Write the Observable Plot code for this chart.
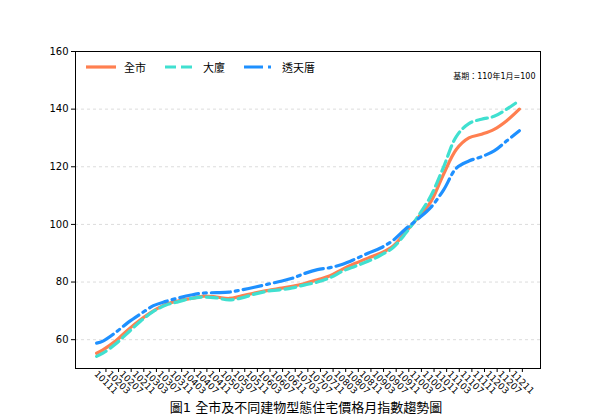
<!DOCTYPE html>
<html>
<head>
<meta charset="utf-8">
<script src="https://cdn.jsdelivr.net/npm/d3@7"></script>
<script src="https://cdn.jsdelivr.net/npm/@observablehq/plot@0.6"></script>
<style>
  html, body { margin: 0; padding: 0; background: white; }
  #wrap { position: relative; width: 600px; height: 420px; font-family: "DejaVu Sans", "Noto Sans CJK TC", sans-serif; }
  #legend { position: absolute; left: 86px; top: 59px; display: flex; align-items: center; font-size: 11px; }
  #legend .item { display: flex; align-items: center; margin-right: 9px; }
  #legend svg { margin-right: 8px; }
  #title { position: absolute; left: 0; top: 398px; width: 612px; text-align: center; font-size: 13px; line-height: 20px; }
</style>
</head>
<body>
<div id="wrap">
  <div id="chart"></div>
  <div id="legend"></div>
  <div id="title">圖1 全市及不同建物型態住宅價格月指數趨勢圖</div>
</div>
<script>
// Periods (民國年+月), data every 4 months plus a start point
const periods = ["10109","10111","10203","10207","10211","10303","10307","10311","10403","10407","10411",
  "10503","10507","10511","10603","10607","10611","10703","10707","10711","10803","10807","10811",
  "10903","10907","10911","11003","11007","11011","11103","11107","11111","11203","11207","11211"];
const seriesNames = ["全市", "大廈", "透天厝"];
const cityValues = [55.3,56.5,59.5,63.5,67.0,70.0,72.3,73.5,74.3,75.1,74.8,
  74.3,75.2,76.2,77.0,77.8,78.5,79.5,80.8,82.2,84.5,86.5,88.3,
  90.0,92.5,97.5,102.5,108.0,117.5,126.0,130.0,131.3,133.0,136.0,140.0];
const buildingValues = [54.2,55.3,58.5,62.5,66.5,69.8,72.0,73.2,74.3,74.8,74.5,
  73.8,74.5,75.8,76.8,77.3,78.0,79.0,80.0,81.5,83.8,85.5,87.2,
  89.3,92.0,97.0,103.0,110.0,120.0,130.5,135.0,136.5,137.5,140.0,143.0];
const houseValues = [58.8,59.5,62.5,66.0,69.0,71.8,73.3,74.5,75.5,76.2,76.3,
  76.5,77.3,78.2,79.2,80.2,81.3,83.0,84.3,85.0,86.2,88.0,90.0,
  91.8,94.5,98.5,102.0,106.0,112.0,119.5,122.0,123.5,125.5,129.0,132.5];
const tickLabels = periods.slice(1);
const yTicks = [60, 80, 100, 120, 140, 160];
const colors = ["#FF7F50", "#40E0D0", "#1E90FF"];
const dashes = [null, "11,5", "19,5,3,5"];
const note = "基期：110年1月=100";

const toMonth = p => (+p.slice(0, 3) - 101) * 12 + (+p.slice(3) - 11);
const allValues = [cityValues, buildingValues, houseValues];
const rows = [];
seriesNames.forEach((name, s) => periods.forEach((p, i) => rows.push({ m: toMonth(p), v: allValues[s][i], name })));
const labelByMonth = new Map(tickLabels.map(p => [toMonth(p), p]));

const font = '"DejaVu Sans", "Noto Sans CJK TC", sans-serif';
const chart = Plot.plot({
  width: 600,
  height: 396,
  marginLeft: 75,
  marginRight: 60,
  marginTop: 51,
  marginBottom: 28,
  style: { fontFamily: font, fontSize: "10px", color: "black", background: "white", overflow: "visible" },
  x: { type: "linear", domain: [-8.7, 138.7] },
  y: { domain: [50, 160] },
  marks: [
    Plot.gridY(yTicks, { stroke: "#dcdcdc", strokeOpacity: 1, strokeDasharray: "3,3" }),
    Plot.axisY({ ticks: yTicks, tickSize: 4, tickPadding: 3, label: null, fontSize: 10 }),
    Plot.axisX({ ticks: tickLabels.map(toMonth), tickFormat: m => labelByMonth.get(m), tickSize: 4,
      tickRotate: 45, textAnchor: "middle", lineAnchor: "middle", tickPadding: 10, dx: 3, label: null, fontSize: 9 }),
    ...seriesNames.map((name, s) => Plot.line(rows.filter(d => d.name === name), {
      x: "m", y: "v", stroke: colors[s], strokeWidth: 3.2, curve: "catmull-rom",
      strokeDasharray: dashes[s] ?? undefined
    })),
    Plot.frame({ stroke: "black", strokeWidth: 1 }),
    Plot.text([note], { frameAnchor: "top-right", dx: -5, dy: 22, fontSize: 8, textAnchor: "end" })
  ]
});
document.getElementById("chart").appendChild(chart);

// legend
const legend = document.getElementById("legend");
seriesNames.forEach((name, s) => {
  const item = document.createElement("div");
  item.className = "item";
  item.innerHTML = `<svg width="30" height="10"><line x1="0" y1="5" x2="30" y2="5" stroke="${colors[s]}" stroke-width="3.2" ${dashes[s] ? `stroke-dasharray="${dashes[s]}"` : ""}/></svg><span style="margin-right:10px">${name}</span>`;
  legend.appendChild(item);
});
</script>
</body>
</html>
